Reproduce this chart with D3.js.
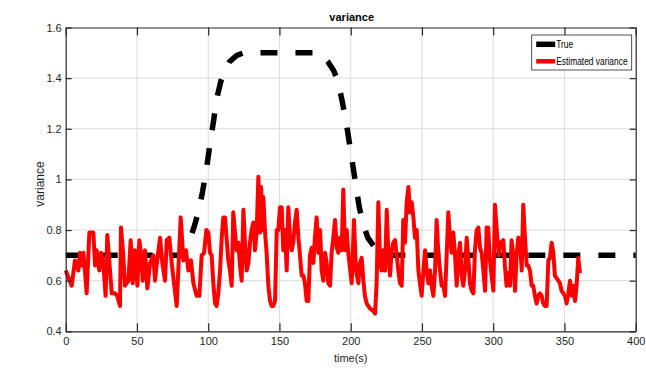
<!DOCTYPE html>
<html>
<head>
<meta charset="utf-8">
<script src="https://cdn.jsdelivr.net/npm/d3@7"></script>
<style>
  body { margin: 0; background: #fff; }
  svg { display: block; font-family: "Liberation Sans", Arial, sans-serif; }
</style>
</head>
<body>
<svg id="chart" width="646" height="369"></svg>
<script>
// true variance (piecewise)
const trueTime = [0, 80, 84, 87, 90, 93, 96, 99, 101, 104, 106, 109, 112, 115, 120, 125,
  175, 180, 184, 188, 191, 194, 197, 200, 203, 206, 209, 212, 217, 222, 228, 400];
const trueVariance = [0.7, 0.7, 0.72, 0.76, 0.81, 0.87, 0.95, 1.05, 1.13, 1.24, 1.32, 1.39, 1.43, 1.465, 1.49, 1.5,
  1.5, 1.49, 1.465, 1.43, 1.39, 1.31, 1.22, 1.11, 1.0, 0.89, 0.82, 0.77, 0.73, 0.71, 0.7, 0.7];

// estimated variance
const estTime = [0, 4.2, 6.5, 8.9, 10, 11.2, 12.4, 13.5, 14.7, 16.6, 19.4, 20.6, 21.7, 23.6, 24.8, 26.4, 28, 29.2,
  31.1, 32.3, 34.6, 36.2, 38.1, 38.8, 40.4, 41.6, 44, 45.6, 47, 48.6, 50.3, 51.7, 53.3, 54, 55.6, 57.3, 59.2,
  61.5, 62.7, 63.8, 66.2, 67.8, 69.7, 70.9, 72.7, 74.4, 76, 77.9, 80.7, 82.6, 84.4, 86.1, 87.9, 89.6, 91.9,
  93.8, 95.4, 97.1, 98.7, 100.1, 101.3, 102.4, 103.6, 104.8, 105.9, 107.1, 108.3, 109.5, 110.6, 111.8, 113,
  114.1, 115.3, 116.5, 117.6, 118.8, 120, 121.2, 122.3, 123.5, 124.7, 125.8, 127, 128.2, 129.3, 130.5, 131.7,
  132.8, 134, 135.2, 136.4, 137.1, 138, 138.7, 139.9, 141, 142.2, 143.4, 144.5, 145.7, 146.9, 148.1, 149.2,
  150.4, 151.6, 152.7, 153.9, 155.1, 156.2, 157.4, 158.6, 159.7, 160.9, 162.1, 163.3, 164.4, 165.6, 166.8,
  167.9, 169.1, 170.3, 171.4, 172.6, 173.8, 174.9, 176.1, 177.3, 178.5, 179.6, 180.8, 182, 183.1, 184.3,
  185.5, 186.6, 187.8, 189, 190.2, 191.3, 192.5, 193.7, 194.8, 196, 197.2, 198.3, 200.7, 202.3, 203.7,
  205.4, 206.5, 207.7, 208.9, 210, 211.2, 213.6, 215.9, 217.1, 218.2, 219.4, 220.6, 221.7, 222.9, 224.1,
  225.3, 226.4, 227.6, 228.8, 229.9, 231.1, 232.3, 233.4, 234.6, 235.8, 236.9, 238.1, 239.3, 240.5, 241.6,
  242.8, 244, 245.1, 246.3, 247.5, 248.6, 249.8, 251, 252.2, 253.3, 254.5, 255.7, 256.8, 258, 259.2, 260.3,
  261.5, 262.7, 263.8, 265, 266.2, 267.4, 268.5, 269.7, 270.9, 272, 273.2, 274.4, 275.5, 276.7, 277.9, 279,
  280.2, 281.4, 282.6, 283.7, 284.9, 286.1, 287.2, 288.4, 289.6, 290.7, 291.9, 293.1, 294.3, 295.4, 296.5,
  297.7, 300.1, 301.2, 302.9, 304, 305.2, 307.1, 308.2, 309.4, 310.6, 311.8, 312.9, 314.1, 315.3, 316.4,
  317.6, 318.8, 320, 321.1, 322.3, 323.5, 324.6, 325.8, 327, 328.1, 329.3, 330.5, 331.6, 332.8, 334, 335.1,
  336.3, 337.5, 338.7, 339.8, 341, 342.2, 343.3, 344.5, 345.7, 346.8, 348, 350.4, 351.5, 352.7, 353.9, 355,
  356.2, 357.4, 358.5, 359.7, 360.9];
const estVariance = [0.64, 0.58, 0.68, 0.64, 0.71, 0.66, 0.71, 0.64, 0.55, 0.79, 0.79, 0.66, 0.72, 0.64, 0.71, 0.67, 0.54, 0.78,
  0.64, 0.55, 0.55, 0.54, 0.5, 0.81, 0.7, 0.58, 0.6, 0.76, 0.59, 0.72, 0.58, 0.76, 0.68, 0.6, 0.72, 0.57, 0.67,
  0.7, 0.6, 0.66, 0.77, 0.67, 0.6, 0.76, 0.77, 0.67, 0.59, 0.5, 0.85, 0.68, 0.72, 0.64, 0.68, 0.59, 0.54,
  0.54, 0.7, 0.71, 0.8, 0.79, 0.71, 0.7, 0.59, 0.51, 0.5, 0.55, 0.64, 0.77, 0.85, 0.85, 0.76,
  0.68, 0.64, 0.58, 0.87, 0.79, 0.72, 0.75, 0.66, 0.6, 0.88, 0.75, 0.64, 0.67, 0.75, 0.8, 0.83,
  0.72, 0.79, 1.01, 0.79, 0.97, 0.8, 0.93, 0.79, 0.71, 0.58, 0.52, 0.5, 0.5, 0.52, 0.8, 0.8,
  0.89, 0.89, 0.72, 0.8, 0.64, 0.89, 0.77, 0.72, 0.75, 0.83, 0.88, 0.77, 0.7, 0.62, 0.62,
  0.59, 0.52, 0.52, 0.7, 0.73, 0.67, 0.77, 0.85, 0.71, 0.8, 0.64, 0.6, 0.71, 0.67, 0.59,
  0.58, 0.71, 0.77, 0.84, 0.73, 0.71, 0.77, 0.72, 0.96, 0.72, 0.8, 0.71, 0.59, 0.84, 0.64,
  0.59, 0.67, 0.69, 0.6, 0.54, 0.51, 0.49, 0.48, 0.47, 0.59, 0.91, 0.67, 0.64, 0.72, 0.64,
  0.88, 0.71, 0.62, 0.72, 0.75, 0.76, 0.7, 0.64, 0.59, 0.58, 0.84, 0.75, 0.91, 0.97, 0.87,
  0.91, 0.85, 0.77, 0.8, 0.64, 0.59, 0.54, 0.64, 0.72, 0.64, 0.59, 0.64, 0.58, 0.54, 0.64, 0.84,
  0.71, 0.64, 0.58, 0.58, 0.54, 0.71, 0.87, 0.77, 0.71, 0.79, 0.7, 0.58, 0.7, 0.75, 0.62, 0.58,
  0.64, 0.77, 0.68, 0.59, 0.56, 0.55, 0.72, 0.8, 0.81, 0.73, 0.71, 0.64, 0.56, 0.81, 0.81,
  0.68, 0.56, 0.9, 0.77, 0.7, 0.75, 0.76, 0.66, 0.58, 0.63, 0.58, 0.76, 0.7, 0.56, 0.7,
  0.77, 0.76, 0.64, 0.9, 0.77, 0.66, 0.66, 0.64, 0.58, 0.58, 0.54, 0.51, 0.54, 0.55, 0.54, 0.51,
  0.5, 0.5, 0.68, 0.69, 0.75, 0.71, 0.62, 0.61, 0.6, 0.59, 0.56, 0.54, 0.51, 0.55, 0.6, 0.54,
  0.58, 0.52, 0.58, 0.69, 0.63];

const xTicks = [0, 50, 100, 150, 200, 250, 300, 350, 400];
const yTicks = [0.4, 0.6, 0.8, 1.0, 1.2, 1.4, 1.6];
const legendLabels = ['True', 'Estimated variance'];
const seriesColors = ['#000000', '#ff0000'];

const svg = d3.select('#chart');
const plotLeft = 65.7, plotRight = 635.7, plotTop = 27.5, plotBottom = 331.3;
const axisColor = '#262626';

const x = d3.scaleLinear().domain([0, 400]).range([plotLeft, plotRight]);
const y = d3.scaleLinear().domain([0.4, 1.6]).range([plotBottom, plotTop]);

// grid
const grid = svg.append('g').attr('stroke', '#dcdcdc').attr('stroke-width', 1);
grid.selectAll('.gx').data(xTicks.slice(1, -1)).join('line')
  .attr('x1', d => x(d)).attr('x2', d => x(d))
  .attr('y1', plotTop).attr('y2', plotBottom);
grid.selectAll('.gy').data(yTicks.slice(1, -1)).join('line')
  .attr('x1', plotLeft).attr('x2', plotRight)
  .attr('y1', d => y(d)).attr('y2', d => y(d));

// series
const line = d3.line().x(d => x(d[0])).y(d => y(d[1]));

svg.append('path')
  .datum(d3.zip(trueTime, trueVariance))
  .attr('d', line)
  .attr('fill', 'none')
  .attr('stroke', seriesColors[0])
  .attr('stroke-width', 5.5)
  .attr('stroke-dasharray', '17 18');

svg.append('path')
  .datum(d3.zip(estTime, estVariance))
  .attr('d', line)
  .attr('fill', 'none')
  .attr('stroke', seriesColors[1])
  .attr('stroke-width', 4)
  .attr('stroke-linejoin', 'round');

// axes, matlab style: ticks inward, box on
const styleAxis = g => {
  g.select('.domain').attr('stroke', axisColor).attr('stroke-width', 1.2);
  g.selectAll('.tick line').attr('stroke', axisColor).attr('stroke-width', 1.2);
  g.selectAll('.tick text').attr('fill', axisColor).attr('font-size', 11);
};

svg.append('g')
  .attr('transform', `translate(0,${plotBottom})`)
  .call(d3.axisBottom(x).tickValues(xTicks).tickSizeInner(-8).tickSizeOuter(0).tickPadding(6))
  .call(styleAxis);

svg.append('g')
  .attr('transform', `translate(0,${plotTop})`)
  .call(d3.axisTop(x).tickValues(xTicks).tickSizeInner(-8).tickSizeOuter(0).tickFormat(''))
  .call(styleAxis);

svg.append('g')
  .attr('transform', `translate(${plotLeft},0)`)
  .call(d3.axisLeft(y).tickValues(yTicks).tickSizeInner(-6).tickSizeOuter(0).tickPadding(4)
    .tickFormat(d3.format('~g')))
  .call(styleAxis);

svg.append('g')
  .attr('transform', `translate(${plotRight},0)`)
  .call(d3.axisRight(y).tickValues(yTicks).tickSizeInner(-6).tickSizeOuter(0).tickFormat(''))
  .call(styleAxis);

// titles
svg.append('text')
  .attr('x', (plotLeft + plotRight) / 2 + 1).attr('y', 21)
  .attr('text-anchor', 'middle')
  .attr('font-size', 11).attr('font-weight', 'bold')
  .attr('fill', '#000')
  .text('variance');

svg.append('text')
  .attr('x', (plotLeft + plotRight) / 2).attr('y', 362)
  .attr('text-anchor', 'middle')
  .attr('font-size', 11).attr('fill', axisColor)
  .text('time(s)');

svg.append('text')
  .attr('transform', 'translate(44,184) rotate(-90)')
  .attr('text-anchor', 'middle')
  .attr('font-size', 12).attr('fill', axisColor)
  .text('variance');

// legend
const legend = svg.append('g').attr('transform', 'translate(531.7,35)');
legend.append('rect')
  .attr('width', 100).attr('height', 35)
  .attr('fill', '#fff').attr('stroke', axisColor).attr('stroke-width', 0.8);

const items = legend.selectAll('.item').data(legendLabels).join('g')
  .attr('transform', (d, i) => `translate(0,${9.3 + i * 17})`);
items.append('line')
  .attr('x1', 4.5).attr('x2', 23.5)
  .attr('stroke', (d, i) => seriesColors[i])
  .attr('stroke-width', (d, i) => i ? 4.5 : 5.5);
// condensed label text, like the narrow font of the original
items.append('text')
  .attr('transform', 'translate(24.5,4) scale(0.8,1)')
  .attr('font-size', 10.5).attr('fill', '#000')
  .text(d => d);
</script>
</body>
</html>
